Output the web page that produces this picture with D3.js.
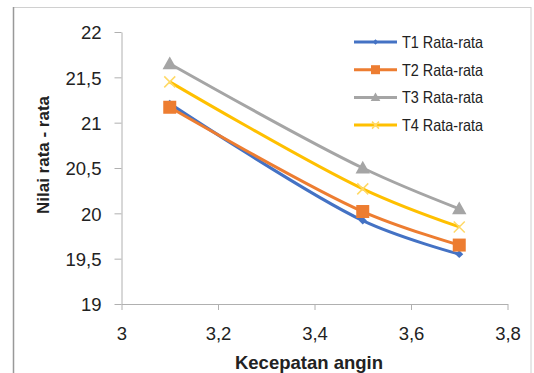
<!DOCTYPE html>
<html>
<head>
<meta charset="utf-8">
<script src="https://cdn.jsdelivr.net/npm/d3@7"></script>
<style>
  body { margin: 0; background: #fff; }
  svg { display: block; font-family: "Liberation Sans", Arial, sans-serif; }
</style>
</head>
<body>
<svg width="534" height="373"></svg>
<script>
// Data
const xValues = [3.1, 3.5, 3.7];
const t1 = [21.21, 19.92, 19.55];
const t2 = [21.17, 20.02, 19.65];
const t3 = [21.65, 20.50, 20.05];
const t4 = [21.45, 20.27, 19.85];
const seriesNames = ["T1 Rata-rata", "T2 Rata-rata", "T3 Rata-rata", "T4 Rata-rata"];
const xTicks = [3, 3.2, 3.4, 3.6, 3.8];
const yTicks = [19, 19.5, 20, 20.5, 21, 21.5, 22];

const colors = ["#4472C4", "#ED7D31", "#A5A5A5", "#FFC000"];
const markers = ["diamond", "square", "triangle", "cross"];
const series = [t1, t2, t3, t4];

const svg = d3.select("svg"),
      margin = {top: 32, right: 26.5, bottom: 69, left: 121.5},
      width = +svg.attr("width"),
      height = +svg.attr("height");

// outer frame
svg.append("rect")
    .attr("x", 13.5).attr("y", 7.5)
    .attr("width", 517.5).attr("height", 380)
    .attr("fill", "none").attr("stroke", "#d0d0d0").attr("stroke-width", 1);
svg.append("line")
    .attr("x1", 13.5).attr("x2", 13.5).attr("y1", 7).attr("y2", 373)
    .attr("stroke", "#999").attr("stroke-width", 1.5);

const fmt = d => String(d).replace(".", ",");

const x = d3.scaleLinear()
    .domain([3, 3.8])
    .range([margin.left, width - margin.right]);

const y = d3.scaleLinear()
    .domain([19, 22])
    .range([height - margin.bottom, margin.top]);

// Axes
const xAxis = svg.append("g")
    .attr("transform", `translate(0,${y(19)})`)
    .call(d3.axisBottom(x).tickValues(xTicks).tickFormat(fmt).tickSize(6).tickSizeOuter(0));

const yAxis = svg.append("g")
    .attr("transform", `translate(${x(3)},0)`)
    .call(d3.axisLeft(y).tickValues(yTicks).tickFormat(fmt).tickSize(7).tickSizeOuter(0));

[xAxis, yAxis].forEach(g => {
    g.select(".domain").attr("stroke", "#b0b0b0");
    g.selectAll(".tick line").attr("stroke", "#b0b0b0");
    g.selectAll("text").attr("fill", "#222").attr("font-size", 18.5)
        .attr("font-family", "Liberation Sans, Arial, sans-serif");
});
xAxis.selectAll("text").attr("y", 36).attr("dy", 0);
yAxis.selectAll("text").attr("x", -20).attr("dy", "0.36em");

// Axis titles
svg.append("text")
    .attr("x", 309).attr("y", 369)
    .attr("text-anchor", "middle")
    .attr("font-size", 18.5).attr("font-weight", "bold").attr("fill", "#222")
    .text("Kecepatan angin");

svg.append("text")
    .attr("transform", "translate(49,155) rotate(-90)")
    .attr("text-anchor", "middle")
    .attr("font-size", 17).attr("font-weight", "bold").attr("fill", "#222")
    .text("Nilai rata - rata");

// Lines
const line = d3.line()
    .x((d, i) => x(xValues[i]))
    .y(d => y(d))
    .curve(d3.curveCatmullRom.alpha(0.5));

function drawMarker(g, type, cx, cy, s, color) {
    if (type === "diamond") {
        g.append("path")
            .attr("d", d3.symbol(d3.symbolDiamond2, s * s * 0.5)())
            .attr("transform", `translate(${cx},${cy})`)
            .attr("fill", color);
    } else if (type === "square") {
        g.append("rect")
            .attr("x", cx - s / 2).attr("y", cy - s / 2)
            .attr("width", s).attr("height", s)
            .attr("fill", color);
    } else if (type === "triangle") {
        g.append("path")
            .attr("d", `M${cx},${cy - s * 0.6}L${cx + s * 0.6},${cy + s * 0.45}L${cx - s * 0.6},${cy + s * 0.45}Z`)
            .attr("fill", color);
    } else {
        const h = s / 2;
        g.append("path")
            .attr("d", `M${cx - h},${cy - h}L${cx + h},${cy + h}M${cx - h},${cy + h}L${cx + h},${cy - h}`)
            .attr("stroke", "#FFD966").attr("stroke-width", 1.5).attr("fill", "none");
    }
}

const markerSizes = [9, 13, 12, 11];
const drawOrder = [0, 1, 3, 2];
drawOrder.forEach(k => {
    const g = svg.append("g");
    g.append("path")
        .datum(series[k])
        .attr("fill", "none")
        .attr("stroke", colors[k])
        .attr("stroke-width", 3)
        .attr("d", line);
    series[k].forEach((v, i) => drawMarker(g, markers[k], x(xValues[i]), y(v), markerSizes[k], colors[k]));
});

// Legend
const legendSizes = [6, 9, 8, 7];
seriesNames.forEach((name, k) => {
    const ly = 42 + k * 27.7;
    const g = svg.append("g");
    g.append("line")
        .attr("x1", 354).attr("x2", 397).attr("y1", ly).attr("y2", ly)
        .attr("stroke", colors[k]).attr("stroke-width", 3);
    drawMarker(g, markers[k], 375.5, ly, legendSizes[k], colors[k]);
    g.append("text")
        .attr("x", 402).attr("y", ly).attr("dy", "0.36em")
        .attr("font-size", 16.5).attr("fill", "#222")
        .attr("textLength", 81).attr("lengthAdjust", "spacingAndGlyphs")
        .text(name);
});
</script>
</body>
</html>
